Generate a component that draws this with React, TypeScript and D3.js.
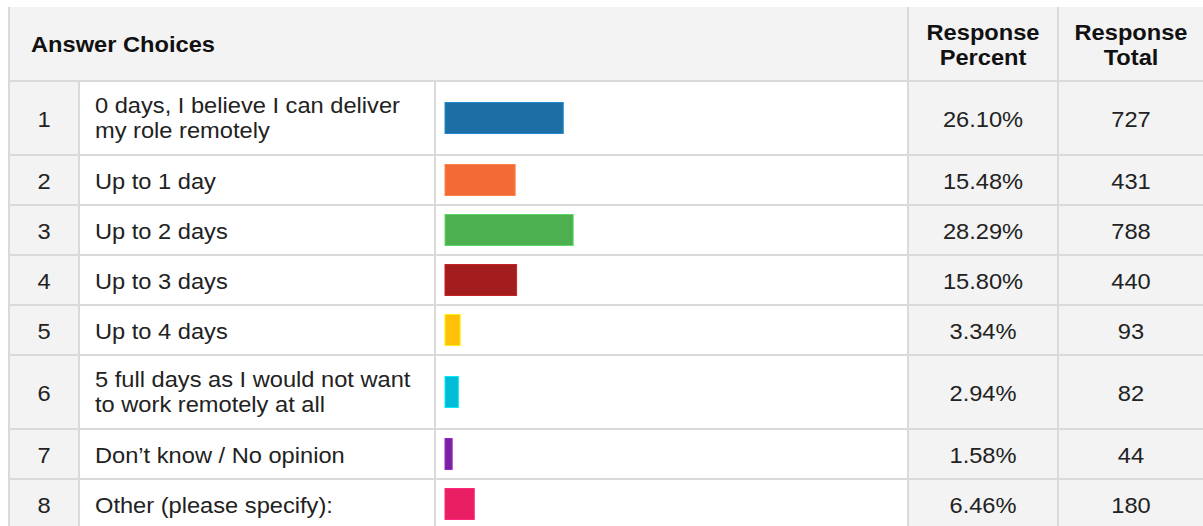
import React from "react";
import * as d3 from "d3";

const choiceNumbers = ["1", "2", "3", "4", "5", "6", "7", "8"];
const choiceLabels: string[][] = [
  ["0 days, I believe I can deliver", "my role remotely"],
  ["Up to 1 day"],
  ["Up to 2 days"],
  ["Up to 3 days"],
  ["Up to 4 days"],
  ["5 full days as I would not want", "to work remotely at all"],
  ["Don\u2019t know / No opinion"],
  ["Other (please specify):"],
];
const responsePercent = [26.1, 15.48, 28.29, 15.8, 3.34, 2.94, 1.58, 6.46];
const responseTotal = [727, 431, 788, 440, 93, 82, 44, 180];
const barColors = ["#1c6ea4", "#f26a35", "#4caf50", "#a31c1e", "#ffc107", "#00bcd4", "#7b1fa2", "#e91e63"];
const headerLabels = { choices: "Answer Choices", percent: ["Response", "Percent"], total: ["Response", "Total"] };

const W = 1203;
const H = 526;
const FONT = "'Liberation Sans', Arial, sans-serif";
const FS = 21.5;
const SX = 1.1;
const GRID = "#dadada";
const GRAY = "#f3f3f3";

const colX = [9, 79, 435, 908, 1058, 1204];
const headerTop = 7;
const headerBottom = 81;

function T({ x, y, anchor = "start", bold = false, children }: any) {
  return (
    <text
      transform={`translate(${x},${y}) scale(${SX},1)`}
      textAnchor={anchor}
      fontFamily={FONT}
      fontSize={FS}
      fontWeight={bold ? "bold" : "normal"}
      fill={bold ? "#111" : "#222"}
    >
      {children}
    </text>
  );
}

export default function App() {
  const rowH = choiceLabels.map((l) => (l.length > 1 ? 74 : 50));
  const rowTops: number[] = [];
  let acc = headerBottom;
  rowH.forEach((h) => {
    rowTops.push(acc);
    acc += h;
  });
  const x = d3.scaleLinear().domain([0, 100]).range([colX[2] + 10, colX[3] - 10]);
  const fmt = d3.format(".2f");
  const barH = 31;

  return (
    <svg width={W} height={H} style={{ position: "absolute", left: 0, top: 0, background: "#fff" }}>
      {/* backgrounds */}
      <rect x={colX[0]} y={headerTop} width={colX[5] - colX[0]} height={headerBottom - headerTop} fill={GRAY} />
      <rect x={colX[0]} y={headerBottom} width={colX[1] - colX[0]} height={H - headerBottom} fill={GRAY} />
      <rect x={colX[3]} y={headerBottom} width={colX[5] - colX[3]} height={H - headerBottom} fill={GRAY} />

      {/* grid lines */}
      {rowTops.map((t, i) => (
        <line key={"h" + i} x1={colX[0]} x2={colX[5]} y1={t} y2={t} stroke={GRID} strokeWidth={2} />
      ))}
      <line x1={colX[0]} x2={colX[0]} y1={headerTop} y2={H} stroke={GRID} strokeWidth={2} />
      <line x1={colX[1]} x2={colX[1]} y1={headerBottom} y2={H} stroke={GRID} strokeWidth={2} />
      <line x1={colX[2]} x2={colX[2]} y1={headerBottom} y2={H} stroke={GRID} strokeWidth={2} />
      <line x1={colX[3]} x2={colX[3]} y1={headerTop} y2={H} stroke={GRID} strokeWidth={2} />
      <line x1={colX[4]} x2={colX[4]} y1={headerTop} y2={H} stroke={GRID} strokeWidth={2} />

      {/* header */}
      <T x={31} y={52} bold>{headerLabels.choices}</T>
      {headerLabels.percent.map((s, i) => (
        <T key={"hp" + i} x={(colX[3] + colX[4]) / 2} y={40 + i * 25} anchor="middle" bold>{s}</T>
      ))}
      {headerLabels.total.map((s, i) => (
        <T key={"ht" + i} x={(colX[4] + colX[5]) / 2} y={40 + i * 25} anchor="middle" bold>{s}</T>
      ))}

      {/* rows */}
      {choiceNumbers.map((n, i) => {
        const top = rowTops[i];
        const c = top + rowH[i] / 2;
        const lines = choiceLabels[i];
        const base = lines.length > 1 ? c - 5 : c + 9;
        const col = barColors[i];
        const stroke = d3.color(col)!.brighter(0.6).formatHex();
        return (
          <g key={"r" + i}>
            <T x={(colX[0] + colX[1]) / 2} y={c + 9} anchor="middle">{n}</T>
            {lines.map((l, j) => (
              <T key={j} x={95} y={base + j * 25}>{l}</T>
            ))}
            <rect
              x={x(0)}
              y={c - barH / 2}
              width={x(responsePercent[i]) - x(0)}
              height={barH}
              fill={col}
              stroke={stroke}
              strokeWidth={1}
            />
            <T x={(colX[3] + colX[4]) / 2} y={c + 9} anchor="middle">{fmt(responsePercent[i]) + "%"}</T>
            <T x={(colX[4] + colX[5]) / 2} y={c + 9} anchor="middle">{responseTotal[i]}</T>
          </g>
        );
      })}
    </svg>
  );
}
